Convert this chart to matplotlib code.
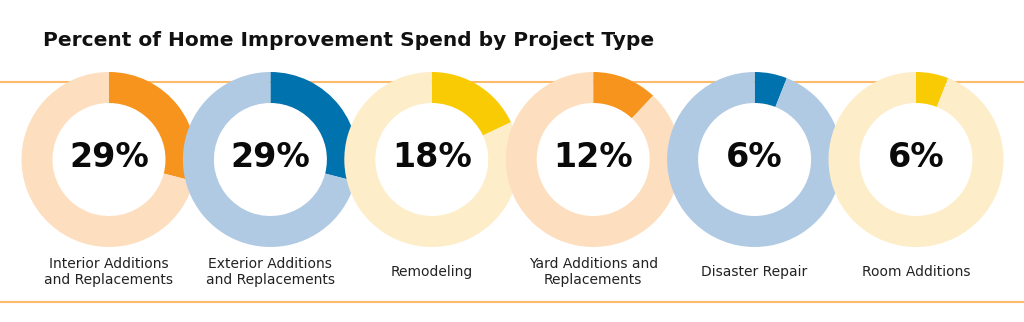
import matplotlib
matplotlib.use("Agg")
import matplotlib.pyplot as plt

title = "Percent of Home Improvement Spend by Project Type"
categories = ["Interior Additions\nand Replacements",
              "Exterior Additions\nand Replacements",
              "Remodeling",
              "Yard Additions and\nReplacements",
              "Disaster Repair",
              "Room Additions"]
values = [29, 29, 18, 12, 6, 6]
value_labels = ["29%", "29%", "18%", "12%", "6%", "6%"]

dark_colors = ["#F7941D", "#0072AE", "#F8CB05", "#F7941D", "#0072AE", "#F8CB05"]
light_colors = ["#FDDFBF", "#B1CAE4", "#FDEDC8", "#FDDFBF", "#B1CAE4", "#FDEDC8"]

W, H = 1024, 322
fig = plt.figure(figsize=(W / 100, H / 100), dpi=100)
ax = fig.add_axes([0, 0, 1, 1])
ax.set_xlim(0, W)
ax.set_ylim(0, H)
ax.axis("off")

line_color = "#FDBA6A"
ax.axhline(H - 82, color=line_color, lw=1.5, zorder=0)
ax.axhline(H - 302, color=line_color, lw=1.5, zorder=0)

fig.text(43 / W, 1 - 40 / H, title, fontsize=14.5, fontweight="bold",
         ha="left", va="center", color="#111111", family="DejaVu Sans")

x0, dx = 109, 161.4
cy = H - 159.5
r_out = 87.5
ring = 31
for i, v in enumerate(values):
    cx = x0 + i * dx
    ax.pie([v, 100 - v], colors=[dark_colors[i], light_colors[i]],
           center=(cx, cy), radius=r_out, startangle=90, counterclock=False,
           wedgeprops=dict(width=ring, linewidth=0), frame=True)
    ax.text(cx, cy + 2, value_labels[i], ha="center", va="center",
            fontsize=24, fontweight="heavy", color="#0A0A0A", zorder=10)
    ax.text(cx, H - 272, categories[i], ha="center", va="center",
            fontsize=10, color="#222222", linespacing=1.12, zorder=10)

ax.set_xlim(0, W)
ax.set_ylim(0, H)
ax.set_aspect("equal")
ax.axis("off")
fig.savefig("out.png", dpi=100)
